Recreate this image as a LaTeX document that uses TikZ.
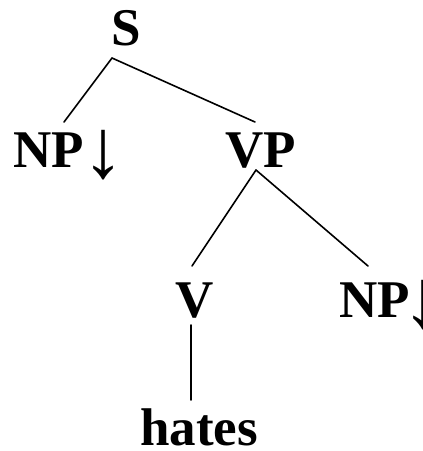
\documentclass[tikz,border=0pt]{standalone}
\usepackage{fontspec}
\setmainfont{Liberation Serif}
\usepackage{tikz}
\usetikzlibrary{positioning,calc}
\newcommand{\subst}[1][0pt]{\kern#1\raisebox{-10pt}{\fontsize{84}{84}\selectfont\mdseries ↓}}

\begin{document}
\begin{tikzpicture}[
  x=1pt, y=-1pt,
  cat/.style={font=\fontsize{53}{60}\selectfont\bfseries, inner sep=0pt, anchor=base},
  branch/.style={line width=1.6pt, line cap=round}
]
  \useasboundingbox (0,0) rectangle (423,451);

  % Categories
  \node[cat] (s)   at (126,45)  {S};
  \node[cat, anchor=base west] (np1) at (13,167)  {NP\subst[-1pt]};
  \node[cat] (vp)  at (261,167) {VP};
  \node[cat] (v)   at (195,317) {V};
  \node[cat, anchor=base west] (np2) at (339,317) {NP\subst[-7pt]};
  \node[cat] (hates) at (199,445) {hates};

  % Branch points
  \coordinate (s-tip)  at (112,58);
  \coordinate (vp-tip) at (256,170);

  % Branches
  \draw[branch] (s-tip) -- (64,122);
  \draw[branch] (s-tip) -- (255,122);
  \draw[branch] (vp-tip) -- (192,266);
  \draw[branch] (vp-tip) -- (368,266);
  \draw[branch] (191,325) -- (191,400);
\end{tikzpicture}
\end{document}
